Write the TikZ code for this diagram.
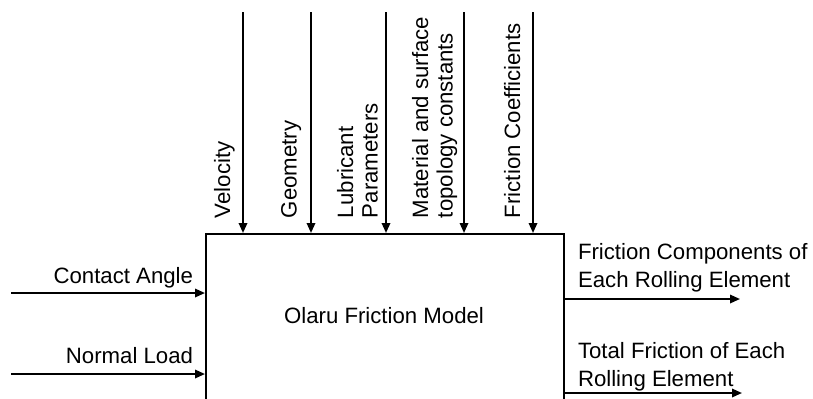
\documentclass[tikz,border=0pt]{standalone}
\usepackage{fontspec}
\setmainfont{Liberation Sans}
\usetikzlibrary{arrows.meta}
\begin{document}
\begin{tikzpicture}[x=0.5pt,y=-0.5pt,
  font=\fontsize{11.1}{14}\selectfont,
  line width=1pt,
  arr/.style={-{Triangle[length=5pt,width=4.2pt]}},
  toplabel/.style={rotate=90,anchor=north west,inner sep=0pt,align=left,
    font=\fontsize{11.1}{12.3}\selectfont},
  sidelabel/.style={anchor=base east,inner sep=0pt},
  outlabel/.style={anchor=north west,inner sep=0pt,align=left}]
\useasboundingbox (0,0) rectangle (813,398);
\clip (0,0) rectangle (813,398);

% the model block (its lower edge runs past the frame)
\node[draw,anchor=north west,inner sep=0pt,minimum width=179pt,minimum height=100pt]
  (box) at (205,233) {};
\node (title) at (384,316) {Olaru Friction Model};

% inputs from above
\coordinate (vel) at (243,12);
\coordinate (geo) at (311,12);
\coordinate (lub) at (386,12);
\coordinate (mat) at (464,12);
\coordinate (fco) at (533,12);
\foreach \c in {vel,geo,lub,mat,fco}
  \draw[arr] (\c) -- (\c |- box.north);

\node[toplabel] (lvel) at (213,219) {Velocity};
\node[toplabel] (lgeo) at (280,219) {Geometry};
\node[toplabel] (llub) at (336,219) {Lubricant\\Parameters};
\node[toplabel] (lmat) at (411,219) {Material and surface\\topology constants};
\node[toplabel] (lfco) at (503,219) {Friction Coefficients};

% inputs from the left
\coordinate (ca) at (11,293);
\coordinate (nl) at (11,374);
\draw[arr] (ca) -- (ca -| box.west);
\draw[arr] (nl) -- (nl -| box.west);
\node[sidelabel] (lca) at (194,283) {Contact Angle};
\node[sidelabel] (lnl) at (194,363) {Normal Load};

% outputs to the right
\coordinate (fc) at (740,299);
\coordinate (tf) at (742,393);
\draw[arr] (fc -| box.east) -- (fc);
\draw[arr] (tf -| box.east) -- (tf);
\node[outlabel] (lfc) at (577,242) {Friction Components of\\Each Rolling Element};
\node[outlabel] (ltf) at (577,341) {Total Friction of Each\\Rolling Element};
\end{tikzpicture}
\end{document}
